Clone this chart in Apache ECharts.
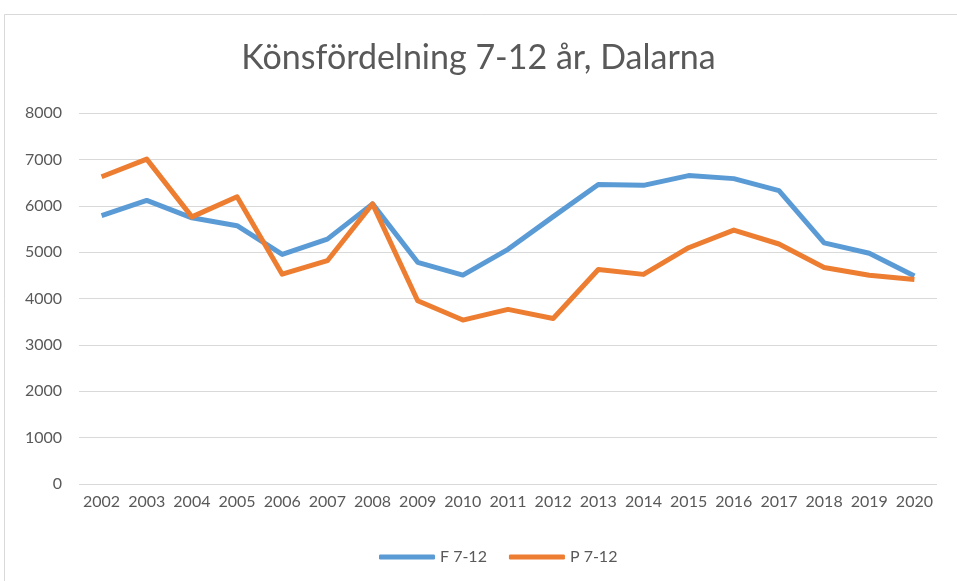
<!DOCTYPE html>
<html>
<head>
<meta charset="utf-8">
<script src="https://cdn.jsdelivr.net/npm/echarts@6/dist/echarts.min.js"></script>
<style>
html,body{margin:0;padding:0;background:#fff;}
#chart{width:957px;height:581px;}
</style>
</head>
<body>
<div id="chart"></div>
<script>
// ==================== DATA ====================
const years=['2002','2003','2004','2005','2006','2007','2008','2009','2010','2011','2012','2013','2014','2015','2016','2017','2018','2019','2020'];
const flickor=[5785,6115,5740,5570,4950,5280,6040,4780,4505,5060,5765,6460,6440,6650,6585,6325,5200,4975,4485];
const pojkar=[6625,7005,5760,6195,4525,4815,6040,3950,3535,3765,3570,4625,4520,5095,5475,5175,4670,4500,4410];
const yTicks={min:0,max:8000,interval:1000};

const font='Lato, "Open Sans", sans-serif', txtC='#595959', gridC='#d9d9d9';
const blue='#5B9BD5', orange='#ED7D31';

const chart=echarts.init(document.getElementById('chart'));
chart.setOption({
  backgroundColor:'#fff',
  animation:false,
  title:{text:'Könsfördelning 7-12 år, Dalarna',left:'center',top:36,
    textStyle:{color:txtC,fontFamily:font,fontSize:34,fontWeight:'normal'}},
  graphic:[{type:'rect',shape:{x:4.5,y:14.5,width:1000,height:1000},style:{fill:'none',stroke:gridC,lineWidth:1},silent:true}],
  grid:{left:79,top:113,width:858,height:371},
  legend:{bottom:11,left:374,itemWidth:56,itemHeight:5,itemGap:22,icon:'roundRect',
    textStyle:{color:txtC,fontFamily:font,fontSize:16},
    data:['F 7-12','P 7-12']},
  xAxis:{type:'category',data:years,boundaryGap:true,
    axisLine:{show:false},axisTick:{show:false},
    axisLabel:{color:txtC,fontFamily:font,fontSize:16,margin:10,interval:0}},
  yAxis:{type:'value',...yTicks,
    axisLine:{show:false},axisTick:{show:false},
    axisLabel:{color:txtC,fontFamily:font,fontSize:16,margin:17,formatter:v=>String(v)},
    splitLine:{lineStyle:{color:gridC,width:1}}},
  series:[
    {name:'F 7-12',type:'line',data:flickor,symbol:'none',lineStyle:{color:blue,width:5,join:'round'},itemStyle:{color:blue}},
    {name:'P 7-12',type:'line',data:pojkar,symbol:'none',lineStyle:{color:orange,width:5,join:'round'},itemStyle:{color:orange}},
  ],
});
</script>
</body>
</html>
